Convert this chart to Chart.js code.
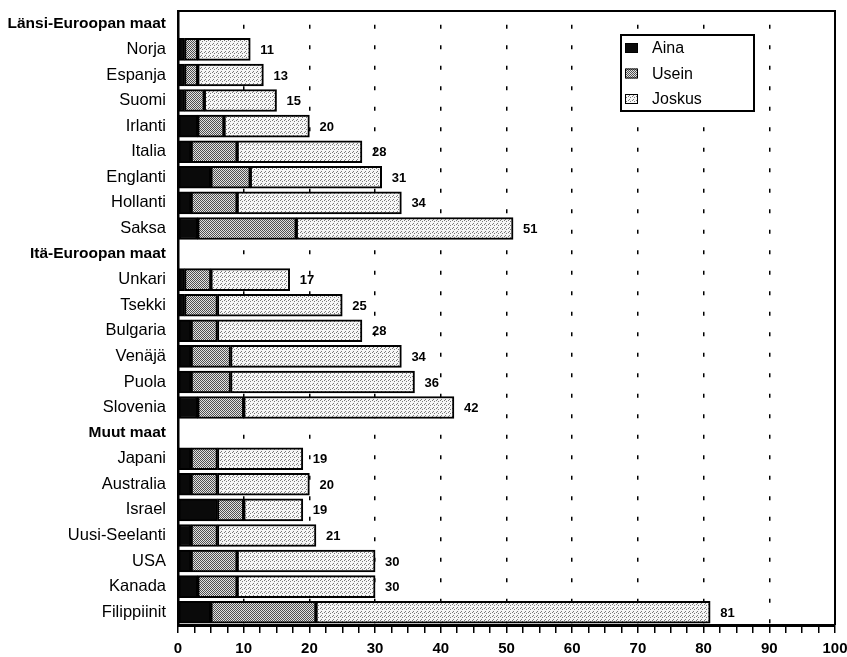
<!DOCTYPE html>
<html>
<head>
<meta charset="utf-8">
<script src="https://cdn.jsdelivr.net/npm/chart.js@4.4.1/dist/chart.umd.min.js"></script>
<style>
  html, body { margin: 0; padding: 0; background: #fff; }
  #wrap { width: 847px; height: 657px; position: relative; }
</style>
</head>
<body>
<div id="wrap"><canvas id="c" width="847" height="657"></canvas></div>
<script>
// ---- data ----
const categories = ['Länsi-Euroopan maat','Norja','Espanja','Suomi','Irlanti','Italia','Englanti','Hollanti','Saksa',
  'Itä-Euroopan maat','Unkari','Tsekki','Bulgaria','Venäjä','Puola','Slovenia',
  'Muut maat','Japani','Australia','Israel','Uusi-Seelanti','USA','Kanada','Filippiinit'];
const groupHeaders = ['Länsi-Euroopan maat','Itä-Euroopan maat','Muut maat'];
const seriesNames = ['Aina','Usein','Joskus'];
const aina   = [null,1,1,1,3,2,5,2,3, null,1,1,2,2,2,3, null,2,2,6,2,2,3,5];
const usein  = [null,2,2,3,4,7,6,7,15, null,4,5,4,6,6,7, null,4,4,4,4,7,6,16];
const joskus = [null,8,10,11,13,19,20,25,33, null,12,19,22,26,28,32, null,13,14,9,15,21,21,60];
const totals = [null,11,13,15,20,28,31,34,51, null,17,25,28,34,36,42, null,19,20,19,21,30,30,81];
const xTickStep = 2.5;

// ---- stipple patterns ----
function makePattern(base, dot, cells) {
  const p = document.createElement('canvas');
  p.width = 4; p.height = 4;
  const g = p.getContext('2d');
  g.fillStyle = base; g.fillRect(0, 0, 4, 4);
  g.fillStyle = dot;
  cells.forEach(([x, y]) => g.fillRect(x, y, 1, 1));
  return g.createPattern(p, 'repeat');
}
const useinFill = makePattern('#e2e2e2', '#505050', [[0,0],[2,0],[1,1],[3,1],[0,2],[2,2],[1,3],[3,3]]);
const joskusFill = makePattern('#f6f6f6', '#7a7a7a', [[0,0],[2,1],[1,3]]);
const fills = ['#0a0a0a', useinFill, joskusFill];

const FONT = "'Liberation Sans', Arial, Helvetica, sans-serif";

const framePlugin = {
  id: 'frame',
  afterDatasetsDraw(chart) {
    const {ctx, chartArea: a} = chart;
    ctx.save();
    ctx.strokeStyle = '#000';
    ctx.lineWidth = 2;
    ctx.beginPath();
    ctx.moveTo(a.left - 1, a.top);
    ctx.lineTo(a.right, a.top);
    ctx.lineTo(a.right, a.bottom);
    ctx.stroke();
    ctx.restore();
  }
};

const totalsPlugin = {
  id: 'totals',
  afterDatasetsDraw(chart) {
    const {ctx} = chart;
    const xs = chart.scales.x, ys = chart.scales.y;
    ctx.save();
    ctx.fillStyle = '#000';
    ctx.font = 'bold 13px ' + FONT;
    ctx.textAlign = 'left';
    ctx.textBaseline = 'middle';
    totals.forEach((t, i) => {
      if (t == null) return;
      ctx.fillText(String(t), xs.getPixelForValue(t) + 10, ys.getPixelForValue(i) + 1);
    });
    ctx.restore();
  }
};

const legendPlugin = {
  id: 'boxLegend',
  afterDraw(chart) {
    const {ctx, chartArea: a} = chart;
    const left = a.left + 443, top = a.top + 24, w = 133, h = 76;
    ctx.save();
    ctx.fillStyle = '#fff';
    ctx.fillRect(left, top, w, h);
    ctx.strokeStyle = '#000';
    ctx.lineWidth = 2;
    ctx.strokeRect(left, top, w, h);
    ctx.font = '16px ' + FONT;
    ctx.textBaseline = 'middle';
    chart.data.datasets.forEach((ds, i) => {
      const cy = top + 13 + i * 25.5;
      ctx.fillStyle = ds.backgroundColor;
      ctx.fillRect(left + 4, cy - 5, 13, 10);
      ctx.strokeStyle = '#000';
      ctx.lineWidth = 1;
      ctx.strokeRect(left + 4.5, cy - 4.5, 12, 9);
      ctx.fillStyle = '#000';
      ctx.fillText(ds.label, left + 31, cy + 1);
    });
    ctx.restore();
  }
};

new Chart(document.getElementById('c'), {
  type: 'bar',
  data: {
    labels: categories,
    datasets: [aina, usein, joskus].map((d, i) => ({
      label: seriesNames[i],
      data: d,
      backgroundColor: fills[i],
      borderColor: '#000',
      borderWidth: 2,
      borderSkipped: false,
      barThickness: 22
    }))
  },
  options: {
    indexAxis: 'y',
    responsive: false,
    animation: false,
    layout: { padding: { top: 11, right: 12, left: 0, bottom: 0 } },
    plugins: { legend: { display: false }, tooltip: { enabled: false } },
    scales: {
      y: {
        stacked: true,
        afterFit(s) { s.width = 178; s.paddingTop = 0; s.paddingBottom = 0; },
        grid: { display: false, drawTicks: false },
        border: { display: true, color: '#000', width: 2.5 },
        ticks: {
          autoSkip: false,
          padding: 12,
          color: '#000',
          font: (c) => groupHeaders.includes(categories[c.index])
            ? { family: FONT, size: 15.5, weight: 'bold' }
            : { family: FONT, size: 16.5, weight: 'normal' }
        }
      },
      x: {
        stacked: true,
        min: 0, max: 100,
        afterFit(s) { s.height = 32; s.paddingLeft = 0; s.paddingRight = 0; },
        ticks: {
          stepSize: xTickStep,
          autoSkip: false,
          maxRotation: 0,
          padding: 7,
          color: '#000',
          font: { family: FONT, size: 15, weight: 'bold' },
          callback: (v) => (v % 10 === 0 ? String(v) : '')
        },
        grid: {
          color: (c) => (c.tick && c.tick.value % 10 === 0 && c.tick.value > 0 && c.tick.value < 100) ? '#000' : 'rgba(0,0,0,0)',
          lineWidth: 1.5,
          tickColor: '#000',
          tickWidth: 1.5,
          tickLength: 8,
          tickBorderDash: [],
          drawOnChartArea: true
        },
        border: { display: true, color: '#000', width: 3, dash: [4, 16.5], dashOffset: 6.7 }
      }
    }
  },
  plugins: [framePlugin, totalsPlugin, legendPlugin]
});
</script>
</body>
</html>
